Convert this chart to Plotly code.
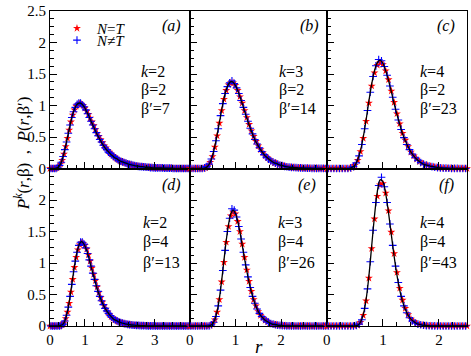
import plotly.graph_objects as go
from plotly.subplots import make_subplots

# ---------------- data ----------------
R_RED = [
    0.00, 0.05, 0.10, 0.15, 0.20, 0.25, 0.30, 0.35, 0.40, 0.45,
    0.50, 0.55, 0.60, 0.65, 0.70, 0.75, 0.80, 0.85, 0.90, 0.95,
    1.00, 1.05, 1.10, 1.15, 1.20, 1.25, 1.30, 1.35, 1.40, 1.45,
    1.50, 1.55, 1.60, 1.65, 1.70, 1.75, 1.80, 1.85, 1.90, 1.95,
    2.00, 2.05, 2.10, 2.15, 2.20, 2.25, 2.30, 2.35, 2.40, 2.45,
    2.50, 2.55, 2.60, 2.65, 2.70, 2.75, 2.80, 2.85, 2.90, 2.95,
    3.00, 3.05, 3.10, 3.15, 3.20, 3.25, 3.30, 3.35, 3.40, 3.45,
    3.50, 3.55, 3.60, 3.65, 3.70, 3.75, 3.80, 3.85, 3.90, 3.95,
    4.00]
R_BLUE = [
    0.025, 0.075, 0.125, 0.175, 0.225, 0.275, 0.325, 0.375, 0.425, 0.475,
    0.525, 0.575, 0.625, 0.675, 0.725, 0.775, 0.825, 0.875, 0.925, 0.975,
    1.025, 1.075, 1.125, 1.175, 1.225, 1.275, 1.325, 1.375, 1.425, 1.475,
    1.525, 1.575, 1.625, 1.675, 1.725, 1.775, 1.825, 1.875, 1.925, 1.975,
    2.025, 2.075, 2.125, 2.175, 2.225, 2.275, 2.325, 2.375, 2.425, 2.475,
    2.525, 2.575, 2.625, 2.675, 2.725, 2.775, 2.825, 2.875, 2.925, 2.975,
    3.025, 3.075, 3.125, 3.175, 3.225, 3.275, 3.325, 3.375, 3.425, 3.475,
    3.525, 3.575, 3.625, 3.675, 3.725, 3.775, 3.825, 3.875, 3.925, 3.975]

# (a) k=2, beta=2, beta'=7
LINE_A = [
    0, 0, 0, 0, 0.01, 0.03, 0.07, 0.14, 0.24, 0.36,
    0.49, 0.62, 0.75, 0.86, 0.94, 1.00, 1.03, 1.04, 1.03, 1.00,
    0.96, 0.90, 0.85, 0.78, 0.72, 0.66, 0.60, 0.54, 0.49, 0.44,
    0.39, 0.35, 0.31, 0.28, 0.25, 0.22, 0.20, 0.17, 0.16, 0.14,
    0.12, 0.11, 0.10, 0.09, 0.08, 0.07, 0.06, 0.055, 0.05, 0.04,
    0.04, 0.035, 0.03, 0.03, 0.025, 0.02, 0.02, 0.02, 0.015, 0.01,
    0.01, 0.01, 0.01, 0.01, 0.01, 0.005, 0.005, 0.005, 0.005, 0.005,
    0.005, 0, 0, 0, 0, 0, 0, 0, 0, 0,
    0]
RED_A = [
    0, 0, 0, 0, 0.01, 0.03, 0.07, 0.13, 0.23, 0.35,
    0.48, 0.61, 0.74, 0.85, 0.93, 0.99, 1.02, 1.03, 1.02, 1.00,
    0.96, 0.91, 0.86, 0.80, 0.74, 0.68, 0.62, 0.56, 0.51, 0.46,
    0.41, 0.36, 0.33, 0.29, 0.26, 0.23, 0.21, 0.18, 0.16, 0.14,
    0.12, 0.11, 0.10, 0.09, 0.08, 0.07, 0.06, 0.055, 0.05, 0.04,
    0.04, 0.035, 0.03, 0.03, 0.025, 0.02, 0.02, 0.02, 0.015, 0.01,
    0.01, 0.01, 0.01, 0.01, 0.01, 0.005, 0.005, 0.005, 0.005, 0.005,
    0.005, 0, 0, 0, 0, 0, 0, 0, 0, 0,
    0]
BLUE_A = [
    0, 0, 0, 0, 0.02, 0.05, 0.10, 0.19, 0.30, 0.42,
    0.56, 0.69, 0.81, 0.90, 0.97, 1.02, 1.04, 1.04, 1.01, 0.98,
    0.93, 0.87, 0.81, 0.75, 0.69, 0.63, 0.57, 0.52, 0.46, 0.42,
    0.37, 0.33, 0.30, 0.26, 0.24, 0.21, 0.19, 0.17, 0.15, 0.13,
    0.115, 0.105, 0.095, 0.085, 0.075, 0.065, 0.06, 0.05, 0.045, 0.04,
    0.035, 0.03, 0.03, 0.025, 0.025, 0.02, 0.02, 0.015, 0.015, 0.01,
    0.01, 0.01, 0.01, 0.01, 0.01, 0.005, 0.005, 0.005, 0.005, 0.005,
    0, 0, 0, 0, 0, 0, 0, 0, 0, 0]

# (b) k=3, beta=2, beta'=14
LINE_B = [
    0, 0, 0, 0, 0, 0, 0, 0.01, 0.04, 0.10,
    0.20, 0.35, 0.53, 0.73, 0.93, 1.11, 1.25, 1.34, 1.38, 1.37,
    1.32, 1.24, 1.14, 1.03, 0.91, 0.80, 0.69, 0.59, 0.50, 0.42,
    0.36, 0.30, 0.25, 0.20, 0.17, 0.14, 0.11, 0.09, 0.08, 0.06,
    0.05, 0.04, 0.03, 0.025, 0.02, 0.018, 0.015, 0.012, 0.01, 0.008,
    0.007, 0.006, 0.005, 0.004, 0.003, 0.003, 0.002, 0.002, 0.001, 0.001,
    0, 0, 0, 0, 0, 0, 0, 0, 0, 0,
    0, 0, 0, 0, 0, 0, 0, 0, 0, 0,
    0]
RED_B = [
    0, 0, 0, 0, 0, 0, 0, 0.01, 0.04, 0.10,
    0.19, 0.34, 0.52, 0.72, 0.92, 1.10, 1.24, 1.33, 1.36, 1.36,
    1.32, 1.24, 1.14, 1.04, 0.92, 0.81, 0.70, 0.60, 0.51, 0.43,
    0.36, 0.30, 0.25, 0.20, 0.17, 0.14, 0.11, 0.09, 0.08, 0.06,
    0.05, 0.04, 0.03, 0.025, 0.02, 0.018, 0.015, 0.012, 0.01, 0.008,
    0.007, 0.006, 0.005, 0.004, 0.003, 0.003, 0.002, 0.002, 0.001, 0.001,
    0, 0, 0, 0, 0, 0, 0, 0, 0, 0,
    0, 0, 0, 0, 0, 0, 0, 0, 0, 0,
    0]
BLUE_B = [
    0, 0, 0, 0, 0, 0, 0.01, 0.03, 0.07, 0.15,
    0.27, 0.44, 0.63, 0.84, 1.03, 1.19, 1.30, 1.36, 1.39, 1.35,
    1.28, 1.19, 1.08, 0.97, 0.86, 0.75, 0.64, 0.55, 0.46, 0.39,
    0.33, 0.27, 0.22, 0.18, 0.15, 0.12, 0.10, 0.085, 0.07, 0.055,
    0.045, 0.035, 0.028, 0.022, 0.019, 0.016, 0.013, 0.011, 0.009, 0.007,
    0.006, 0.005, 0.004, 0.003, 0.003, 0.002, 0.002, 0.001, 0.001, 0,
    0, 0, 0, 0, 0, 0, 0, 0, 0, 0,
    0, 0, 0, 0, 0, 0, 0, 0, 0, 0]

# (c) k=4, beta=2, beta'=23
LINE_C = [
    0, 0, 0, 0, 0, 0, 0, 0, 0, 0.02,
    0.05, 0.14, 0.28, 0.50, 0.77, 1.07, 1.34, 1.55, 1.68, 1.72,
    1.67, 1.55, 1.40, 1.22, 1.03, 0.86, 0.70, 0.55, 0.44, 0.34,
    0.26, 0.20, 0.15, 0.11, 0.08, 0.06, 0.05, 0.035, 0.03, 0.02,
    0.01, 0.008, 0.005, 0.004, 0.003, 0.002, 0.001, 0, 0, 0,
    0, 0, 0, 0, 0, 0, 0, 0, 0, 0,
    0, 0, 0, 0, 0, 0, 0, 0, 0, 0,
    0, 0, 0, 0, 0, 0, 0, 0, 0, 0,
    0]
RED_C = [
    0, 0, 0, 0, 0, 0, 0, 0, 0, 0.02,
    0.05, 0.13, 0.27, 0.48, 0.75, 1.04, 1.31, 1.52, 1.64, 1.68,
    1.65, 1.55, 1.41, 1.23, 1.05, 0.87, 0.71, 0.56, 0.45, 0.35,
    0.26, 0.20, 0.15, 0.11, 0.08, 0.06, 0.05, 0.035, 0.03, 0.02,
    0.01, 0.008, 0.005, 0.004, 0.003, 0.002, 0.001, 0, 0, 0,
    0, 0, 0, 0, 0, 0, 0, 0, 0, 0,
    0, 0, 0, 0, 0, 0, 0, 0, 0, 0,
    0, 0, 0, 0, 0, 0, 0, 0, 0, 0,
    0]
BLUE_C = [
    0, 0, 0, 0, 0, 0, 0, 0, 0.01, 0.03,
    0.09, 0.20, 0.38, 0.63, 0.92, 1.21, 1.46, 1.63, 1.73, 1.71,
    1.62, 1.48, 1.31, 1.13, 0.94, 0.77, 0.62, 0.49, 0.38, 0.30,
    0.23, 0.17, 0.13, 0.095, 0.07, 0.055, 0.04, 0.03, 0.02, 0.015,
    0.01, 0.007, 0.005, 0.004, 0.003, 0.002, 0.001, 0, 0, 0,
    0, 0, 0, 0, 0, 0, 0, 0, 0, 0,
    0, 0, 0, 0, 0, 0, 0, 0, 0, 0,
    0, 0, 0, 0, 0, 0, 0, 0, 0, 0]

# (d) k=2, beta=4, beta'=13
LINE_D = [
    0, 0, 0, 0, 0, 0, 0.01, 0.02, 0.05, 0.12,
    0.23, 0.38, 0.56, 0.76, 0.95, 1.11, 1.23, 1.31, 1.34, 1.32,
    1.27, 1.20, 1.11, 1.00, 0.89, 0.79, 0.69, 0.59, 0.51, 0.43,
    0.37, 0.31, 0.26, 0.22, 0.18, 0.15, 0.12, 0.10, 0.09, 0.07,
    0.06, 0.05, 0.04, 0.035, 0.03, 0.025, 0.02, 0.016, 0.013, 0.011,
    0.01, 0.008, 0.006, 0.005, 0.004, 0.003, 0.003, 0.002, 0.002, 0.001,
    0, 0, 0, 0, 0, 0, 0, 0, 0, 0,
    0, 0, 0, 0, 0, 0, 0, 0, 0, 0,
    0]
RED_D = [
    0, 0, 0, 0, 0, 0, 0.01, 0.02, 0.05, 0.12,
    0.22, 0.36, 0.54, 0.74, 0.93, 1.09, 1.21, 1.29, 1.32, 1.31,
    1.28, 1.22, 1.13, 1.03, 0.92, 0.82, 0.72, 0.62, 0.53, 0.45,
    0.38, 0.32, 0.27, 0.22, 0.18, 0.15, 0.12, 0.10, 0.09, 0.07,
    0.06, 0.05, 0.04, 0.035, 0.03, 0.025, 0.02, 0.016, 0.013, 0.011,
    0.01, 0.008, 0.006, 0.005, 0.004, 0.003, 0.003, 0.002, 0.002, 0.001,
    0, 0, 0, 0, 0, 0, 0, 0, 0, 0,
    0, 0, 0, 0, 0, 0, 0, 0, 0, 0,
    0]
BLUE_D = [
    0, 0, 0, 0, 0, 0, 0.01, 0.03, 0.08, 0.17,
    0.30, 0.47, 0.66, 0.86, 1.03, 1.17, 1.28, 1.33, 1.33, 1.30,
    1.24, 1.15, 1.05, 0.95, 0.84, 0.74, 0.64, 0.55, 0.47, 0.40,
    0.34, 0.28, 0.24, 0.20, 0.165, 0.135, 0.11, 0.095, 0.08, 0.065,
    0.055, 0.045, 0.038, 0.032, 0.027, 0.022, 0.018, 0.015, 0.012, 0.01,
    0.009, 0.007, 0.006, 0.005, 0.004, 0.003, 0.002, 0.002, 0.001, 0.001,
    0, 0, 0, 0, 0, 0, 0, 0, 0, 0,
    0, 0, 0, 0, 0, 0, 0, 0, 0, 0]

# (e) k=3, beta=4, beta'=26
LINE_E = [
    0, 0, 0, 0, 0, 0, 0, 0, 0, 0.01,
    0.03, 0.10, 0.23, 0.44, 0.72, 1.04, 1.36, 1.61, 1.78, 1.84,
    1.79, 1.66, 1.49, 1.28, 1.07, 0.87, 0.69, 0.54, 0.41, 0.31,
    0.23, 0.17, 0.13, 0.09, 0.07, 0.05, 0.03, 0.025, 0.02, 0.01,
    0.01, 0.005, 0.003, 0.002, 0.001, 0, 0, 0, 0, 0,
    0, 0, 0, 0, 0, 0, 0, 0, 0, 0,
    0, 0, 0, 0, 0, 0, 0, 0, 0, 0,
    0, 0, 0, 0, 0, 0, 0, 0, 0, 0,
    0]
RED_E = [
    0, 0, 0, 0, 0, 0, 0, 0, 0, 0.01,
    0.03, 0.10, 0.22, 0.42, 0.70, 1.01, 1.33, 1.58, 1.75, 1.81,
    1.78, 1.66, 1.50, 1.30, 1.09, 0.89, 0.71, 0.55, 0.42, 0.32,
    0.23, 0.17, 0.13, 0.09, 0.07, 0.05, 0.03, 0.025, 0.02, 0.01,
    0.01, 0.005, 0.003, 0.002, 0.001, 0, 0, 0, 0, 0,
    0, 0, 0, 0, 0, 0, 0, 0, 0, 0,
    0, 0, 0, 0, 0, 0, 0, 0, 0, 0,
    0, 0, 0, 0, 0, 0, 0, 0, 0, 0,
    0]
BLUE_E = [
    0, 0, 0, 0, 0, 0, 0, 0, 0, 0.02,
    0.06, 0.15, 0.32, 0.57, 0.88, 1.20, 1.50, 1.71, 1.86, 1.84,
    1.73, 1.58, 1.38, 1.17, 0.97, 0.78, 0.61, 0.47, 0.36, 0.27,
    0.20, 0.15, 0.11, 0.08, 0.06, 0.04, 0.03, 0.02, 0.015, 0.01,
    0.007, 0.004, 0.002, 0.001, 0, 0, 0, 0, 0, 0,
    0, 0, 0, 0, 0, 0, 0, 0, 0, 0,
    0, 0, 0, 0, 0, 0, 0, 0, 0, 0,
    0, 0, 0, 0, 0, 0, 0, 0, 0, 0]

# (f) k=4, beta=4, beta'=43
LINE_F = [
    0, 0, 0, 0, 0, 0, 0, 0, 0, 0,
    0, 0.01, 0.06, 0.18, 0.42, 0.79, 1.27, 1.75, 2.13, 2.32,
    2.29, 2.10, 1.80, 1.45, 1.11, 0.81, 0.57, 0.39, 0.26, 0.17,
    0.11, 0.07, 0.04, 0.025, 0.015, 0.01, 0.005, 0.003, 0.002, 0.001,
    0, 0, 0, 0, 0, 0, 0, 0, 0, 0,
    0, 0, 0, 0, 0, 0, 0, 0, 0, 0,
    0, 0, 0, 0, 0, 0, 0, 0, 0, 0,
    0, 0, 0, 0, 0, 0, 0, 0, 0, 0,
    0]
RED_F = [
    0, 0, 0, 0, 0, 0, 0, 0, 0, 0,
    0, 0.01, 0.06, 0.17, 0.40, 0.76, 1.23, 1.70, 2.06, 2.24,
    2.26, 2.11, 1.83, 1.49, 1.15, 0.85, 0.60, 0.41, 0.28, 0.18,
    0.11, 0.07, 0.04, 0.025, 0.015, 0.01, 0.005, 0.003, 0.002, 0.001,
    0, 0, 0, 0, 0, 0, 0, 0, 0, 0,
    0, 0, 0, 0, 0, 0, 0, 0, 0, 0,
    0, 0, 0, 0, 0, 0, 0, 0, 0, 0,
    0, 0, 0, 0, 0, 0, 0, 0, 0, 0,
    0]
BLUE_F = [
    0, 0, 0, 0, 0, 0, 0, 0, 0, 0,
    0.01, 0.03, 0.10, 0.28, 0.59, 1.02, 1.52, 1.96, 2.23, 2.36,
    2.21, 1.96, 1.62, 1.28, 0.95, 0.69, 0.47, 0.32, 0.21, 0.13,
    0.08, 0.05, 0.03, 0.02, 0.012, 0.007, 0.004, 0.002, 0.001, 0,
    0, 0, 0, 0, 0, 0, 0, 0, 0, 0,
    0, 0, 0, 0, 0, 0, 0, 0, 0, 0,
    0, 0, 0, 0, 0, 0, 0, 0, 0, 0,
    0, 0, 0, 0, 0, 0, 0, 0, 0, 0]

PANEL_LABELS = ["(a)", "(b)", "(c)", "(d)", "(e)", "(f)"]
K_VALUES = ["2", "3", "4", "2", "3", "4"]
BETA_VALUES = ["2", "2", "2", "4", "4", "4"]
BETA_PRIME_VALUES = ["7", "14", "23", "13", "26", "43"]
X_TICKS = [["0", "1", "2", "3"], ["0", "1", "2"], ["0", "1", "2"]]
Y_TICKS_TOP = ["0", "0.5", "1", "1.5", "2", "2.5"]
Y_TICKS_BOTTOM = ["0", "0.5", "1", "1.5", "2"]
LEGEND_NAMES = ["<i>N</i>=<i>T</i>", "<i>N</i>≠<i>T</i>"]

LINES = [LINE_A, LINE_B, LINE_C, LINE_D, LINE_E, LINE_F]
REDS = [RED_A, RED_B, RED_C, RED_D, RED_E, RED_F]
BLUES = [BLUE_A, BLUE_B, BLUE_C, BLUE_D, BLUE_E, BLUE_F]

# ---------------- layout geometry ----------------
W, H = 471, 356
ML, MR, MT, MB = 50, 3, 7, 30
XMAX = [4.0, 3.0, 2.5]
FONT = "Liberation Serif"
PW = W - ML - MR
PH = H - MT - MB


def px(xp):
    return (xp - ML) / PW


def py(yp):
    return (H - MB - yp) / PH


fig = make_subplots(rows=2, cols=3, column_widths=[140, 137.5, 140.5],
                    horizontal_spacing=0, vertical_spacing=0)

for i in range(6):
    row, col = i // 3 + 1, i % 3 + 1
    xmax = XMAX[col - 1]
    red_pts = [(r, v) for r, v in zip(R_RED, REDS[i]) if r <= xmax + 1e-9]
    blue_pts = [(r, v) for r, v in zip(R_BLUE, BLUES[i]) if r <= xmax + 1e-9]
    line_pts = [(r, v) for r, v in zip(R_RED, LINES[i]) if r <= xmax + 1e-9]
    fig.add_trace(go.Scatter(
        x=[p[0] for p in red_pts], y=[p[1] for p in red_pts],
        mode="markers", name=LEGEND_NAMES[0], legend="legend",
        showlegend=(i == 0), cliponaxis=False,
        marker=dict(symbol="star", size=6, color="#ff0000",
                    line=dict(width=0))), row=row, col=col)
    fig.add_trace(go.Scatter(
        x=[p[0] for p in blue_pts], y=[p[1] for p in blue_pts],
        mode="markers", name=LEGEND_NAMES[1], legend="legend2",
        showlegend=(i == 0), cliponaxis=False,
        marker=dict(symbol="cross-thin-open", size=5.5, color="#0000ff",
                    line=dict(width=1.1, color="#0000ff"))), row=row, col=col)
    fig.add_trace(go.Scatter(
        x=[p[0] for p in line_pts], y=[p[1] for p in line_pts],
        mode="lines", showlegend=False,
        line=dict(color="black", width=1.3, shape="spline", smoothing=0.8)),
        row=row, col=col)

axis_common = dict(showline=True, linecolor="black", linewidth=1, mirror=True,
                   ticks="inside", ticklen=7, tickwidth=1, tickcolor="black",
                   showgrid=False, zeroline=False, ticklabeloverflow="allow",
                   tickfont=dict(family=FONT, size=15, color="black"))

for i in range(6):
    row, col = i // 3 + 1, i % 3 + 1
    xt = X_TICKS[col - 1]
    fig.update_xaxes(range=[0, XMAX[col - 1]], tickmode="array",
                     tickvals=[float(t) for t in xt], ticktext=xt,
                     showticklabels=(row == 2),
                     minor=dict(ticks="inside", ticklen=4, dtick=0.25, tick0=0,
                                tickcolor="black", tickwidth=1),
                     **axis_common, row=row, col=col)
    yt = Y_TICKS_TOP if row == 1 else Y_TICKS_BOTTOM
    fig.update_yaxes(range=[0, 2.5], tickmode="array",
                     tickvals=[float(t) for t in yt], ticktext=yt,
                     showticklabels=(col == 1),
                     minor=dict(ticks="inside", ticklen=4, dtick=0.125, tick0=0,
                                tickcolor="black", tickwidth=1),
                     **axis_common, row=row, col=col)

# annotation placement (pixels)
LABEL_POS = [(172, 22), (310, 22), (447, 22), (172, 183), (308, 183), (447, 183)]
TEXT_LEFT = [139, 278, 419, 141, 277, 419]
TEXT_ROWS = [(68, 87, 106), (221, 241, 262)]

ann = []
for i in range(6):
    row = i // 3
    lx, ly = LABEL_POS[i]
    ann.append(dict(x=px(lx), y=py(ly), xref="paper", yref="paper",
                    text="<i>" + PANEL_LABELS[i] + "</i>", showarrow=False,
                    xanchor="center", yanchor="middle",
                    font=dict(family=FONT, size=16, color="black")))
    texts = ["<i>k</i>=" + K_VALUES[i], "β=" + BETA_VALUES[i],
             "β′=" + BETA_PRIME_VALUES[i]]
    for t, yy in zip(texts, TEXT_ROWS[row]):
        ann.append(dict(x=px(TEXT_LEFT[i]), y=py(yy), xref="paper", yref="paper",
                        text=t, showarrow=False, xanchor="left", yanchor="middle",
                        font=dict(family=FONT, size=16, color="black")))

ann.append(dict(x=px(259), y=py(347), xref="paper", yref="paper",
                text="<i>r</i>", showarrow=False, xanchor="center",
                yanchor="middle", font=dict(family=FONT, size=19, color="black")))
NB = "\u00a0\u00a0"
ann.append(dict(x=px(22), y=py(151), xref="paper", yref="paper",
                text="<i>P</i><sup><i>k</i></sup>(<i>r</i>,β)" + NB + "," + NB
                     + "<i>P</i>(<i>r</i>,β′)",
                textangle=-90, showarrow=False, xanchor="center", yanchor="middle",
                font=dict(family=FONT, size=17, color="black")))

legend_common = dict(xanchor="left", yanchor="top", bgcolor="rgba(0,0,0,0)",
                     borderwidth=0, itemwidth=30, tracegroupgap=0,
                     font=dict(family=FONT, size=15, color="black"))

fig.update_layout(
    width=W, height=H,
    margin=dict(l=ML, r=MR, t=MT, b=MB, pad=0),
    paper_bgcolor="white", plot_bgcolor="white",
    annotations=ann,
    legend=dict(x=px(57), y=py(8), **legend_common),
    legend2=dict(x=px(57), y=py(20), **legend_common),
    font=dict(family=FONT, color="black"),
)

fig.write_html("out.html", config={"displayModeBar": False},
               post_script="document.body.style.margin='0px';"
                           "document.body.style.overflow='hidden';")
